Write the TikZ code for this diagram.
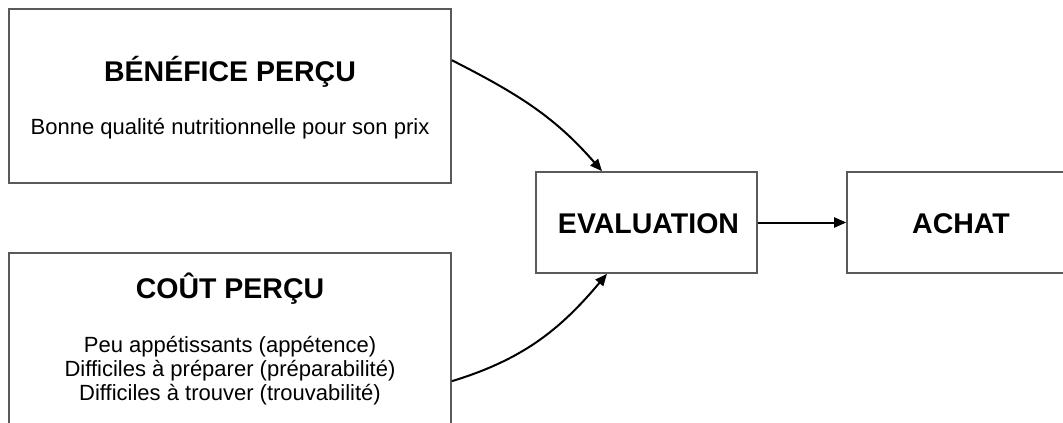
\documentclass[tikz,border=0pt]{standalone}
\usepackage{fontspec}
\setmainfont{Liberation Sans}
\usetikzlibrary{arrows.meta,positioning}
\definecolor{boxgray}{RGB}{90,90,90}
\tikzset{
  box/.style={draw=boxgray,line width=1.6pt,inner sep=0pt},
  head/.style={font=\fontsize{28.5}{32}\selectfont\bfseries},
  body/.style={font=\fontsize{22}{24}\selectfont,align=center},
  flow/.style={-{Triangle[length=12pt,width=10pt]},line width=2pt}
}
\begin{document}
\begin{tikzpicture}[x=1pt,y=-1pt]
  \useasboundingbox (0,0) rectangle (1063,423);
  \clip (0,0) rectangle (1063,423);
  \node[box,minimum width=442pt,minimum height=174pt](benef) at (230,96){};
  \node[box,minimum width=442pt,minimum height=200pt](cout) at (230,353){};
  \node[box,minimum width=221pt,minimum height=101pt](eval) at (646.5,222.5){};
  \node[box,minimum width=228pt,minimum height=101pt](achat) at (961,222.5){};
  \node[head,anchor=base](evalT) at (648.5,233){EVALUATION};
  \node[head,anchor=base](achatT) at (961,233){ACHAT};
  \node[head,anchor=base](benefT) at (230,81){BÉNÉFICE PERÇU};
  \node[body,anchor=base](benefB) at (230,134){Bonne qualité nutritionnelle pour son prix};
  \node[head,anchor=base](coutT) at (230,298){COÛT PERÇU};
  \node[body,anchor=base](coutB) at (230,400){Peu appétissants (appétence)\\
    Difficiles à préparer (préparabilité)\\
    Difficiles à trouver (trouvabilité)};
  \coordinate(A) at ([yshift=-52pt]benef.north east);
  \coordinate(B) at ([xshift=-44.5pt]eval.north);
  \coordinate(C) at ([yshift=-129pt]cout.north east);
  \coordinate(D) at ([xshift=-39.5pt]eval.south);
  \draw[flow](A) to[out=-27,in=131](B);
  \draw[flow](C) to[out=17,in=-130](D);
  \draw[flow](eval)--(achat);
\end{tikzpicture}
\end{document}
